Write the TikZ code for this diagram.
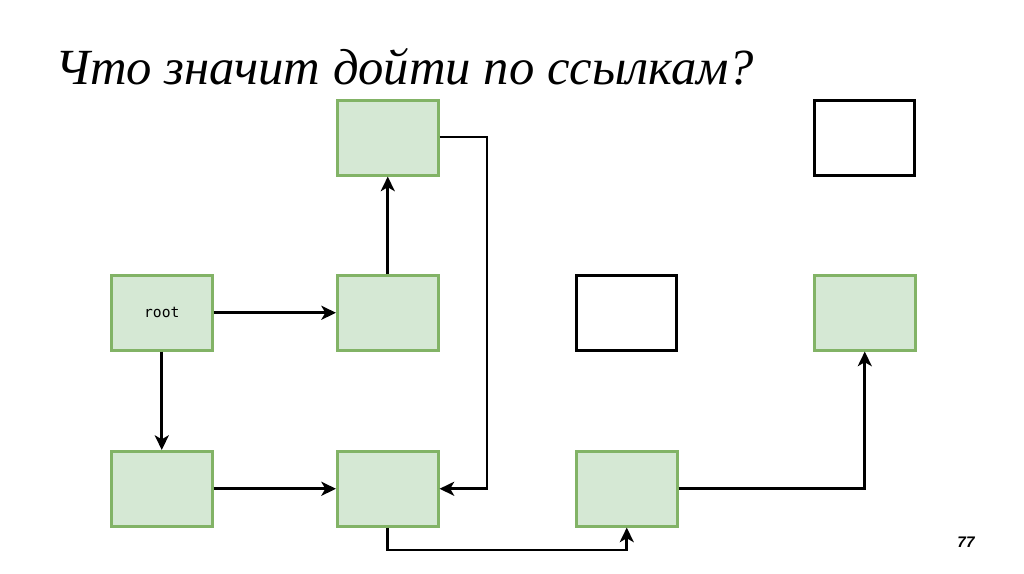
\documentclass[tikz,border=0pt]{standalone}
\usepackage{fontspec}
\setmainfont{Liberation Serif}
\newfontfamily\monof{DejaVu Sans Mono}
\newfontfamily\numf{Liberation Sans}
\usetikzlibrary{arrows.meta}
\definecolor{gfill}{HTML}{D5E8D4}
\definecolor{gdraw}{HTML}{82B366}
\begin{document}
\begin{tikzpicture}[x=0.75pt,y=-0.75pt,
  gbox/.style={draw=gdraw,fill=gfill,line width=1.9pt,minimum width=75.75pt,minimum height=56.25pt,inner sep=0pt,anchor=north west},
  wbox/.style={draw=black,fill=white,line width=1.9pt,minimum width=75pt,minimum height=56.25pt,inner sep=0pt,anchor=north west},
  conn/.style={draw=black,line width=2.2pt,-{Stealth[length=11pt,width=10.5pt,inset=3pt]}}]
\useasboundingbox (0,0) rectangle (1024,574);
\node[anchor=base west,inner sep=0pt,font=\fontsize{38}{44}\selectfont\itshape] (title) at (55,85) {Что значит дойти по ссылкам?};
\node[gbox] (a) at (336,99) {};
\node[wbox] (tw) at (813,99) {};
\node[gbox,font=\monof\fontsize{11}{12}\selectfont] (root) at (110,274) {root};
\node[gbox] (b) at (336,274) {};
\node[wbox] (mw) at (575,274) {};
\node[gbox] (r) at (813,274) {};
\node[gbox] (bl) at (110,450) {};
\node[gbox] (c) at (336,450) {};
\node[gbox] (d) at (575,450) {};
\node[font=\numf\bfseries\itshape\fontsize{11.5}{12}\selectfont,inner sep=0pt] (pg) at (966,542) {77};
\coordinate (ar) at (487,137);
\coordinate (cb) at (386,550);
\draw[conn] (root.east) -- (b.west);
\draw[conn] (root.south) -- (bl.north);
\draw[conn] (b.north) -- (a.south);
\draw[conn] (a.east |- ar) -- (ar) |- (c.east);
\draw[conn] (bl.east) -- (c.west);
\draw[conn] (c.south) |- (d.south |- cb) -- (d.south);
\draw[conn] (d.east) -| (r.south);
\end{tikzpicture}
\end{document}
